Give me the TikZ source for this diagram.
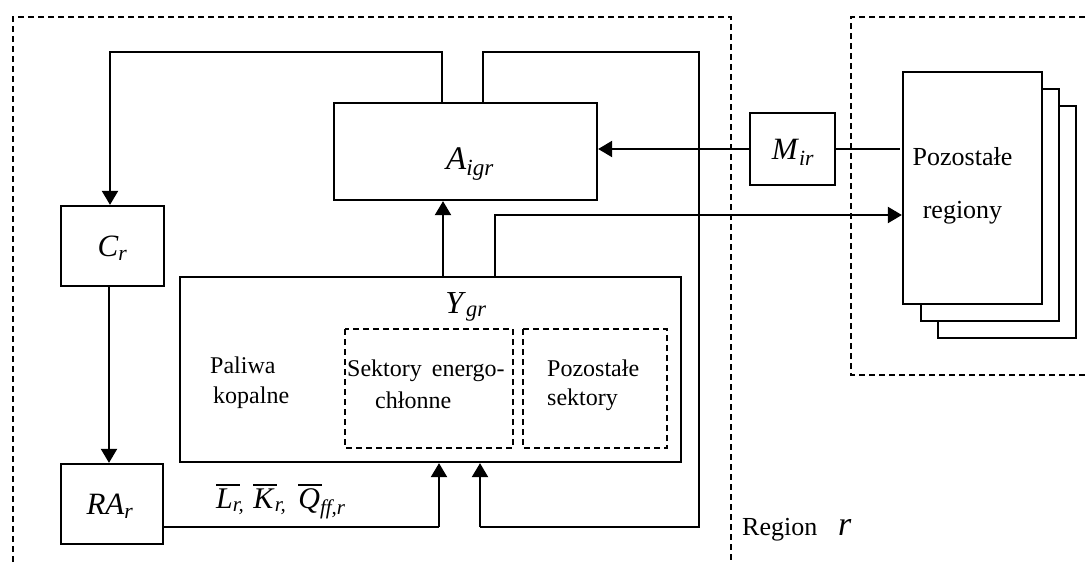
\documentclass[tikz,border=0pt]{standalone}
\usepackage{fontspec}
\setmainfont{Liberation Serif}
\usetikzlibrary{arrows.meta}

% italic symbol with an italic subscript
\newcommand\isym[2]{\textit{#1}\textsubscript{\textit{#2}}}
% italic symbol under a heavy bar, followed by an italic subscript
\newcommand\bsym[2]{\makebox[0pt][l]{\rule[22pt]{24pt}{2.4pt}}\textit{#1}\textsubscript{\textit{#2}}}

\tikzset{
  box/.style={draw, line width=2.3pt, fill=white, rectangle, inner sep=0pt},
  dashbox/.style={draw, line width=1.7pt, dash pattern=on 6pt off 4pt},
  conn/.style={line width=2.3pt},
  arr/.style={conn, -{Triangle[length=14pt,width=16pt]}},
  txt/.style={font=\fontsize{24}{28}\selectfont, inner sep=0pt},
  sym/.style={font=\fontsize{31}{36}\selectfont, inner sep=0pt},
  bigsym/.style={font=\fontsize{33}{40}\selectfont, inner sep=0pt},
}

\begin{document}
\begin{tikzpicture}[x=1pt, y=-1pt]
  \useasboundingbox (0,0) rectangle (1089,562);
  \fill[white] (0,0) rectangle (1089,562);

  % region borders
  \draw[dashbox] (13,562) -- (13,17) -- (731,17) -- (731,562);
  \draw[dashbox] (1095,17) -- (851,17) -- (851,375) -- (1095,375);

  % blocks of region r
  \node[box, minimum width=263pt, minimum height=97pt] (aig) at (465.5,151.5) {};
  \node[bigsym, anchor=base] (aiglab) at (470,169) {\isym{A}{igr}};
  \node[box, minimum width=103pt, minimum height=80pt] (cr) at (112.5,246) {};
  \node[sym] (crlab) at (112.5,248) {\isym{C}{r}};
  \node[box, minimum width=102pt, minimum height=80pt] (ra) at (112,504) {};
  \node[sym] (ralab) at (110,506) {\isym{RA}{r}};
  \node[box, minimum width=501pt, minimum height=185pt] (ygr) at (430.5,369.5) {};
  \node[font=\fontsize{32}{38}\selectfont, inner sep=0pt, anchor=base] (ygrlab) at (466,313) {\isym{Y}{gr}};

  % sectors inside Y
  \node[txt, anchor=base west] (pal1) at (210,373) {Paliwa};
  \node[txt, anchor=base west] (pal2) at (213,403) {kopalne};
  \draw[dashbox] (345,329) rectangle (513,448);
  \node[txt, anchor=base west] (sek1) at (347,376) {Sektory\hspace{10pt}energo-};
  \node[txt, anchor=base west] (sek2) at (375,408) {chłonne};
  \draw[dashbox] (523,329) rectangle (667,448);
  \node[txt, anchor=base west] (poz1) at (547,376) {Pozostałe};
  \node[txt, anchor=base west] (poz2) at (547,405) {sektory};

  % imports
  \node[box, minimum width=85pt, minimum height=72pt] (mir) at (792.5,149) {};
  \node[sym] (mirlab) at (793,152) {\isym{M}{ir}};

  % other regions (stacked sheets)
  \node[box, minimum width=138pt, minimum height=232pt] (reg3) at (1007,222) {};
  \node[box, minimum width=138pt, minimum height=232pt] (reg2) at (990,205) {};
  \node[box, minimum width=139pt, minimum height=232pt] (reg1) at (972.5,188) {};
  \node[font=\fontsize{26}{30}\selectfont, inner sep=0pt, anchor=base] (reglab1) at (962.5,165) {Pozostałe};
  \node[font=\fontsize{26}{30}\selectfont, inner sep=0pt, anchor=base] (reglab2) at (962.5,218) {regiony};

  % region label
  \node[font=\fontsize{26}{30}\selectfont, inner sep=0pt, anchor=base west] (rname) at (742,535) {Region};
  \node[font=\fontsize{34}{38}\selectfont\itshape, inner sep=0pt, anchor=base west] (rsym) at (838,535) {r};

  % bend points
  \coordinate (lt) at (442,52);
  \coordinate (rt) at (483,52);
  \coordinate (rb) at (699,527);
  \coordinate (rr) at (480,527);
  \coordinate (lk) at (439,527);
  \coordinate (ex) at (495,215);
  \coordinate (ya) at (443,0);
  \coordinate (mend) at (900,149);

  % connectors
  \draw[arr] (aig.north -| lt) -- (lt) -- (lt -| 110,0) -- (cr.north -| 110,0);
  \draw[conn] (aig.north -| rt) -- (rt) -- (rt -| rb) -- (rb) -- (rr);
  \draw[arr] (rr) -- (ygr.south -| rr);
  \draw[arr] (cr.south -| 109,0) -- (ra.north -| 109,0);
  \draw[conn] (ra.east |- lk) -- (lk);
  \draw[arr] (lk) -- (ygr.south -| lk);
  \draw[arr] (ygr.north -| ya) -- (aig.south -| ya);
  \draw[arr] (ygr.north -| ex) -- (ex) -- (ex -| reg1.west);
  \draw[arr] (mir.west) -- (mir.west -| aig.east);
  \draw[conn] (mir.east) -- (mend);

  % factor label
  \node[font=\fontsize{30}{34}\selectfont, inner sep=0pt, anchor=base west] (flab) at (216,508)
    {\bsym{L}{r,}\hspace{9pt}\bsym{K}{r,}\hspace{12pt}\bsym{Q}{ff,r}};
\end{tikzpicture}
\end{document}
